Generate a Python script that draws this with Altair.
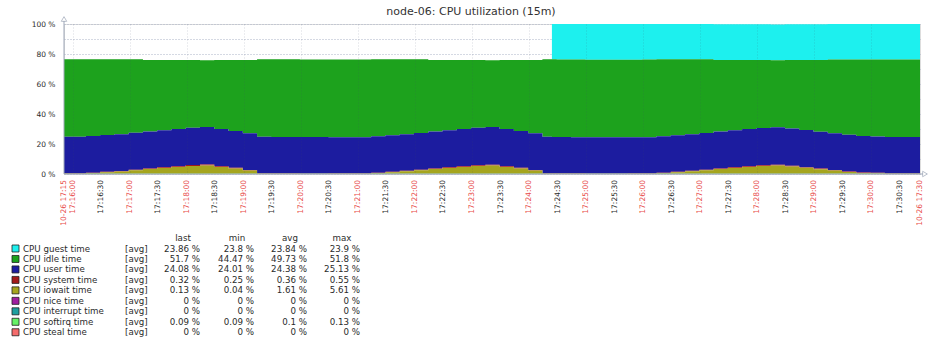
import altair as alt
import pandas as pd

TITLE = "node-06: CPU utilization (15m)"
START = "17:15:51"
END = "17:30:51"
START_LABEL = "10-26 17:15"
END_LABEL = "10-26 17:30"

times = ["17:15:51", "17:16:14", "17:16:29", "17:16:44", "17:16:59", "17:17:14", "17:17:29", "17:17:44",
         "17:17:59", "17:18:14", "17:18:29", "17:18:44", "17:18:59", "17:19:14", "17:19:29", "17:19:44",
         "17:19:59", "17:20:14", "17:20:29", "17:20:44", "17:20:59", "17:21:14", "17:21:29", "17:21:44",
         "17:21:59", "17:22:14", "17:22:29", "17:22:44", "17:22:59", "17:23:14", "17:23:29", "17:23:44",
         "17:23:59", "17:24:14", "17:24:24", "17:24:29", "17:24:44", "17:24:59", "17:25:14", "17:25:29",
         "17:25:44", "17:25:59", "17:26:14", "17:26:29", "17:26:44", "17:26:59", "17:27:14", "17:27:29",
         "17:27:44", "17:27:59", "17:28:14", "17:28:29", "17:28:44", "17:28:59", "17:29:14", "17:29:29",
         "17:29:44", "17:29:59", "17:30:14", "17:30:29", "17:30:44", "17:30:51"]

guest = [None] * 34 + [23.85, 23.82, 23.8, 23.84, 23.86, 23.9, 23.85, 23.83, 23.8, 23.84, 23.86, 23.88,
                       23.85, 23.82, 23.84, 23.86, 23.83, 23.81, 23.85, 23.87, 23.84, 23.82, 23.85, 23.86,
                       23.84, 23.86, 23.86, 23.86]
idle = [51.72, 51.2, 50.53, 49.95, 49.07, 47.7, 46.85, 46.0, 45.18, 44.51, 46.0, 47.25, 48.8, 51.65,
        51.78, 51.8, 51.8, 51.79, 51.8, 51.78, 51.76, 51.4, 50.68, 49.95, 49.12, 47.7, 46.85, 46.0,
        45.23, 44.49, 46.0, 47.25, 48.8, 51.65, 51.75, 51.78, 51.73, 51.71, 51.74, 51.78, 51.72, 51.76,
        51.4, 50.68, 49.95, 49.12, 47.7, 46.85, 46.0, 45.28, 44.57, 45.6, 46.72, 47.75, 49.08, 50.2,
        51.04, 51.26, 51.66, 51.7, 51.7, 51.7]
user = [24.35, 24.4, 24.45, 24.5, 24.55, 24.6, 24.7, 24.8, 24.9, 25.0, 24.8, 24.6, 24.5, 24.4, 24.3,
        24.25, 24.2, 24.2, 24.15, 24.1, 24.1, 24.2, 24.3, 24.4, 24.5, 24.6, 24.7, 24.8, 24.95, 25.13,
        24.8, 24.6, 24.5, 24.4, 24.3, 24.2, 24.15, 24.1, 24.05, 24.01, 24.05, 24.1, 24.2, 24.3, 24.4,
        24.5, 24.6, 24.7, 24.8, 24.9, 25.05, 24.9, 24.7, 24.6, 24.5, 24.4, 24.3, 24.2, 24.1, 24.08,
        24.08, 24.08]
system = [0.28, 0.3, 0.32, 0.35, 0.38, 0.4, 0.45, 0.5, 0.52, 0.55, 0.5, 0.45, 0.4, 0.3, 0.28, 0.27,
          0.25, 0.26, 0.28, 0.27, 0.3, 0.3, 0.32, 0.35, 0.38, 0.4, 0.45, 0.5, 0.52, 0.55, 0.5, 0.45,
          0.4, 0.3, 0.3, 0.28, 0.27, 0.25, 0.26, 0.27, 0.28, 0.3, 0.3, 0.32, 0.35, 0.38, 0.4, 0.45,
          0.5, 0.52, 0.55, 0.5, 0.48, 0.45, 0.42, 0.4, 0.36, 0.34, 0.32, 0.32, 0.32, 0.32]
iowait = [0.05, 0.5, 1.1, 1.6, 2.4, 3.2, 3.9, 4.6, 5.3, 5.61, 4.6, 3.6, 2.2, 0.05, 0.04, 0.05, 0.04,
          0.05, 0.04, 0.05, 0.04, 0.5, 1.1, 1.7, 2.4, 3.2, 3.9, 4.6, 5.2, 5.5, 4.6, 3.6, 2.2, 0.05,
          0.05, 0.04, 0.05, 0.04, 0.05, 0.04, 0.05, 0.04, 0.5, 1.1, 1.7, 2.4, 3.2, 3.9, 4.6, 5.2, 5.5,
          4.9, 4.0, 3.1, 2.2, 1.2, 0.5, 0.4, 0.13, 0.13, 0.13, 0.13]
nice = [0] * 62
interrupt = [0] * 62
softirq = [0.1] * 9 + [0.13] + [0.1] * 19 + [0.13] + [0.1] * 20 + [0.13] + [0.1] * 7 + [0.09] * 4
steal = [0] * 62

series_names = ["CPU guest time", "CPU idle time", "CPU user time", "CPU system time", "CPU iowait time",
                "CPU nice time", "CPU interrupt time", "CPU softirq time", "CPU steal time"]
series_colors = ["#1DF0EE", "#1DA21D", "#1C1C9F", "#A31A1A", "#A5A51E", "#A01EA0", "#1E9F9F",
                 "#66F266", "#F56C6C"]
series_values = [guest, idle, user, system, iowait, nice, interrupt, softirq, steal]

stat_last = ["23.86 %", "51.7 %", "24.08 %", "0.32 %", "0.13 %", "0 %", "0 %", "0.09 %", "0 %"]
stat_min = ["23.8 %", "44.47 %", "24.01 %", "0.25 %", "0.04 %", "0 %", "0 %", "0.09 %", "0 %"]
stat_avg = ["23.84 %", "49.73 %", "24.38 %", "0.36 %", "1.61 %", "0 %", "0 %", "0.1 %", "0 %"]
stat_max = ["23.9 %", "51.8 %", "25.13 %", "0.55 %", "5.61 %", "0 %", "0 %", "0.13 %", "0 %"]
stat_headers = ["last", "min", "avg", "max"]

tick_labels = ["17:16:00", "17:16:30", "17:17:00", "17:17:30", "17:18:00", "17:18:30", "17:19:00",
               "17:19:30", "17:20:00", "17:20:30", "17:21:00", "17:21:30", "17:22:00", "17:22:30",
               "17:23:00", "17:23:30", "17:24:00", "17:24:30", "17:25:00", "17:25:30", "17:26:00",
               "17:26:30", "17:27:00", "17:27:30", "17:28:00", "17:28:30", "17:29:00", "17:29:30",
               "17:30:00", "17:30:30"]
y_ticks = [0, 10, 20, 30, 40, 50, 60, 70, 80, 90, 100]

FONT = "DejaVu Sans"
RED = "#E84A4A"
DARK = "#2b2b2b"
AXIS = "#9ea7b8"


def secs(s):
    h, m, x = map(int, s.split(":"))
    return h * 3600 + m * 60 + x


t0 = secs(START)
t_end = secs(END) - t0

rows = []
for si, (name, vals) in enumerate(zip(series_names, series_values)):
    for tt, v in zip(times, vals):
        rows.append({"t": secs(tt) - t0, "series": name, "value": 0 if v is None else v,
                     "order": len(series_names) - si})
df = pd.DataFrame(rows)

W, H = 856, 150
xscale = alt.Scale(domain=[0, t_end], nice=False, zero=False)

area = alt.Chart(df).mark_area(interpolate="step-after", clip=True).encode(
    x=alt.X("t:Q", scale=xscale,
            axis=alt.Axis(values=[secs(s) - t0 for s in tick_labels], labels=False, ticks=False,
                          domain=False, title=None, gridDash=[1, 2], gridColor="#3a4a6a",
                          gridOpacity=0.2, zindex=1)),
    y=alt.Y("value:Q", stack="zero", scale=alt.Scale(domain=[0, 100], nice=False),
            axis=alt.Axis(values=y_ticks, labelExpr="datum.value % 20 == 0 ? datum.value + ' %' : ''",
                          ticks=False, domain=False, title=None, labelPadding=9, labelFontSize=7.5,
                          labelColor=DARK, labelFont=FONT, gridDash=[1, 2], gridColor="#aab3c6")),
    color=alt.Color("series:N", scale=alt.Scale(domain=series_names, range=series_colors), legend=None),
    order=alt.Order("order:Q", sort="ascending"),
)

# tick labels under the time axis
tick_df = pd.DataFrame({
    "t": [0] + [secs(s) - t0 for s in tick_labels] + [t_end],
    "label": [START_LABEL] + tick_labels + [END_LABEL],
    "color": [RED] + [RED if s.endswith(":00") else DARK for s in tick_labels] + [RED],
})
ticks_text = alt.Chart(tick_df).mark_text(angle=270, align="right", baseline="middle", font=FONT,
                                          fontSize=7.5).encode(
    x=alt.X("t:Q", scale=xscale),
    y=alt.value(H + 6),
    text="label:N",
    color=alt.Color("color:N", scale=None),
)

# single-row source for decorations
one = pd.DataFrame({"k": [0]})
yline = alt.Chart(one).mark_rule(color=AXIS, strokeWidth=1).encode(
    x=alt.value(0), y=alt.value(-3), y2=alt.value(H))
xline = alt.Chart(one).mark_rule(color=AXIS, strokeWidth=1).encode(
    x=alt.value(0), x2=alt.value(W + 3), y=alt.value(H))
uparrow = alt.Chart(one).mark_point(shape="triangle-up", size=30, filled=False, color=AXIS,
                                    strokeWidth=1).encode(x=alt.value(0), y=alt.value(-5))
rarrow = alt.Chart(one).mark_point(shape="triangle-right", size=30, filled=False, color=AXIS,
                                   strokeWidth=1).encode(x=alt.value(W + 5), y=alt.value(H))

title = alt.Chart(one).mark_text(font=FONT, fontSize=11, color="#333333", align="center",
                                 baseline="alphabetic").encode(
    x=alt.value(407), y=alt.value(-9), text=alt.value(TITLE))

# legend table
leg_df = pd.DataFrame({
    "row": list(range(len(series_names))),
    "name": series_names,
    "color": series_colors,
    "fn": ["[avg]"] * len(series_names),
    "last": stat_last, "min": stat_min, "avg": stat_avg, "max": stat_max,
})
leg = alt.Chart(leg_df).transform_calculate(py="224.5 + datum.row * 10.47")
LFS = 8.7
swatch = leg.mark_square(size=49, stroke="#222222", strokeWidth=0.8, opacity=1).encode(
    x=alt.value(-48.5), y=alt.Y("py:Q", scale=None), fill=alt.Color("color:N", scale=None))
names_t = leg.mark_text(align="left", baseline="middle", font=FONT, fontSize=LFS, color=DARK).encode(
    x=alt.value(-41), y=alt.Y("py:Q", scale=None), text="name:N")
fn_t = leg.mark_text(align="left", baseline="middle", font=FONT, fontSize=LFS, color=DARK).encode(
    x=alt.value(61), y=alt.Y("py:Q", scale=None), text="fn:N")
col_right = {"last": 136, "min": 190, "avg": 243, "max": 296}
val_layers = [
    leg.mark_text(align="right", baseline="middle", font=FONT, fontSize=LFS, color=DARK).encode(
        x=alt.value(col_right[c]), y=alt.Y("py:Q", scale=None), text=f"{c}:N")
    for c in stat_headers
]
hdr_df = pd.DataFrame({"h": stat_headers})
hdr_center = {"last": 119, "min": 173, "avg": 226, "max": 278}
hdr_layers = [
    alt.Chart(hdr_df).transform_filter(f"datum.h == '{c}'").mark_text(
        align="center", baseline="middle", font=FONT, fontSize=LFS, color=DARK).encode(
        x=alt.value(hdr_center[c]), y=alt.value(214.3), text="h:N")
    for c in stat_headers
]

chart = alt.layer(area, yline, xline, uparrow, rarrow, ticks_text, title, swatch, names_t, fn_t,
                  *val_layers, *hdr_layers).properties(
    width=W, height=H,
    autosize=alt.AutoSizeParams(type="none"),
    padding={"left": 64, "top": 24, "right": 11, "bottom": 168},
).configure_view(stroke=None).configure(font=FONT, background="white")

chart.save("out.html", embed_options={"renderer": "svg", "actions": False})
